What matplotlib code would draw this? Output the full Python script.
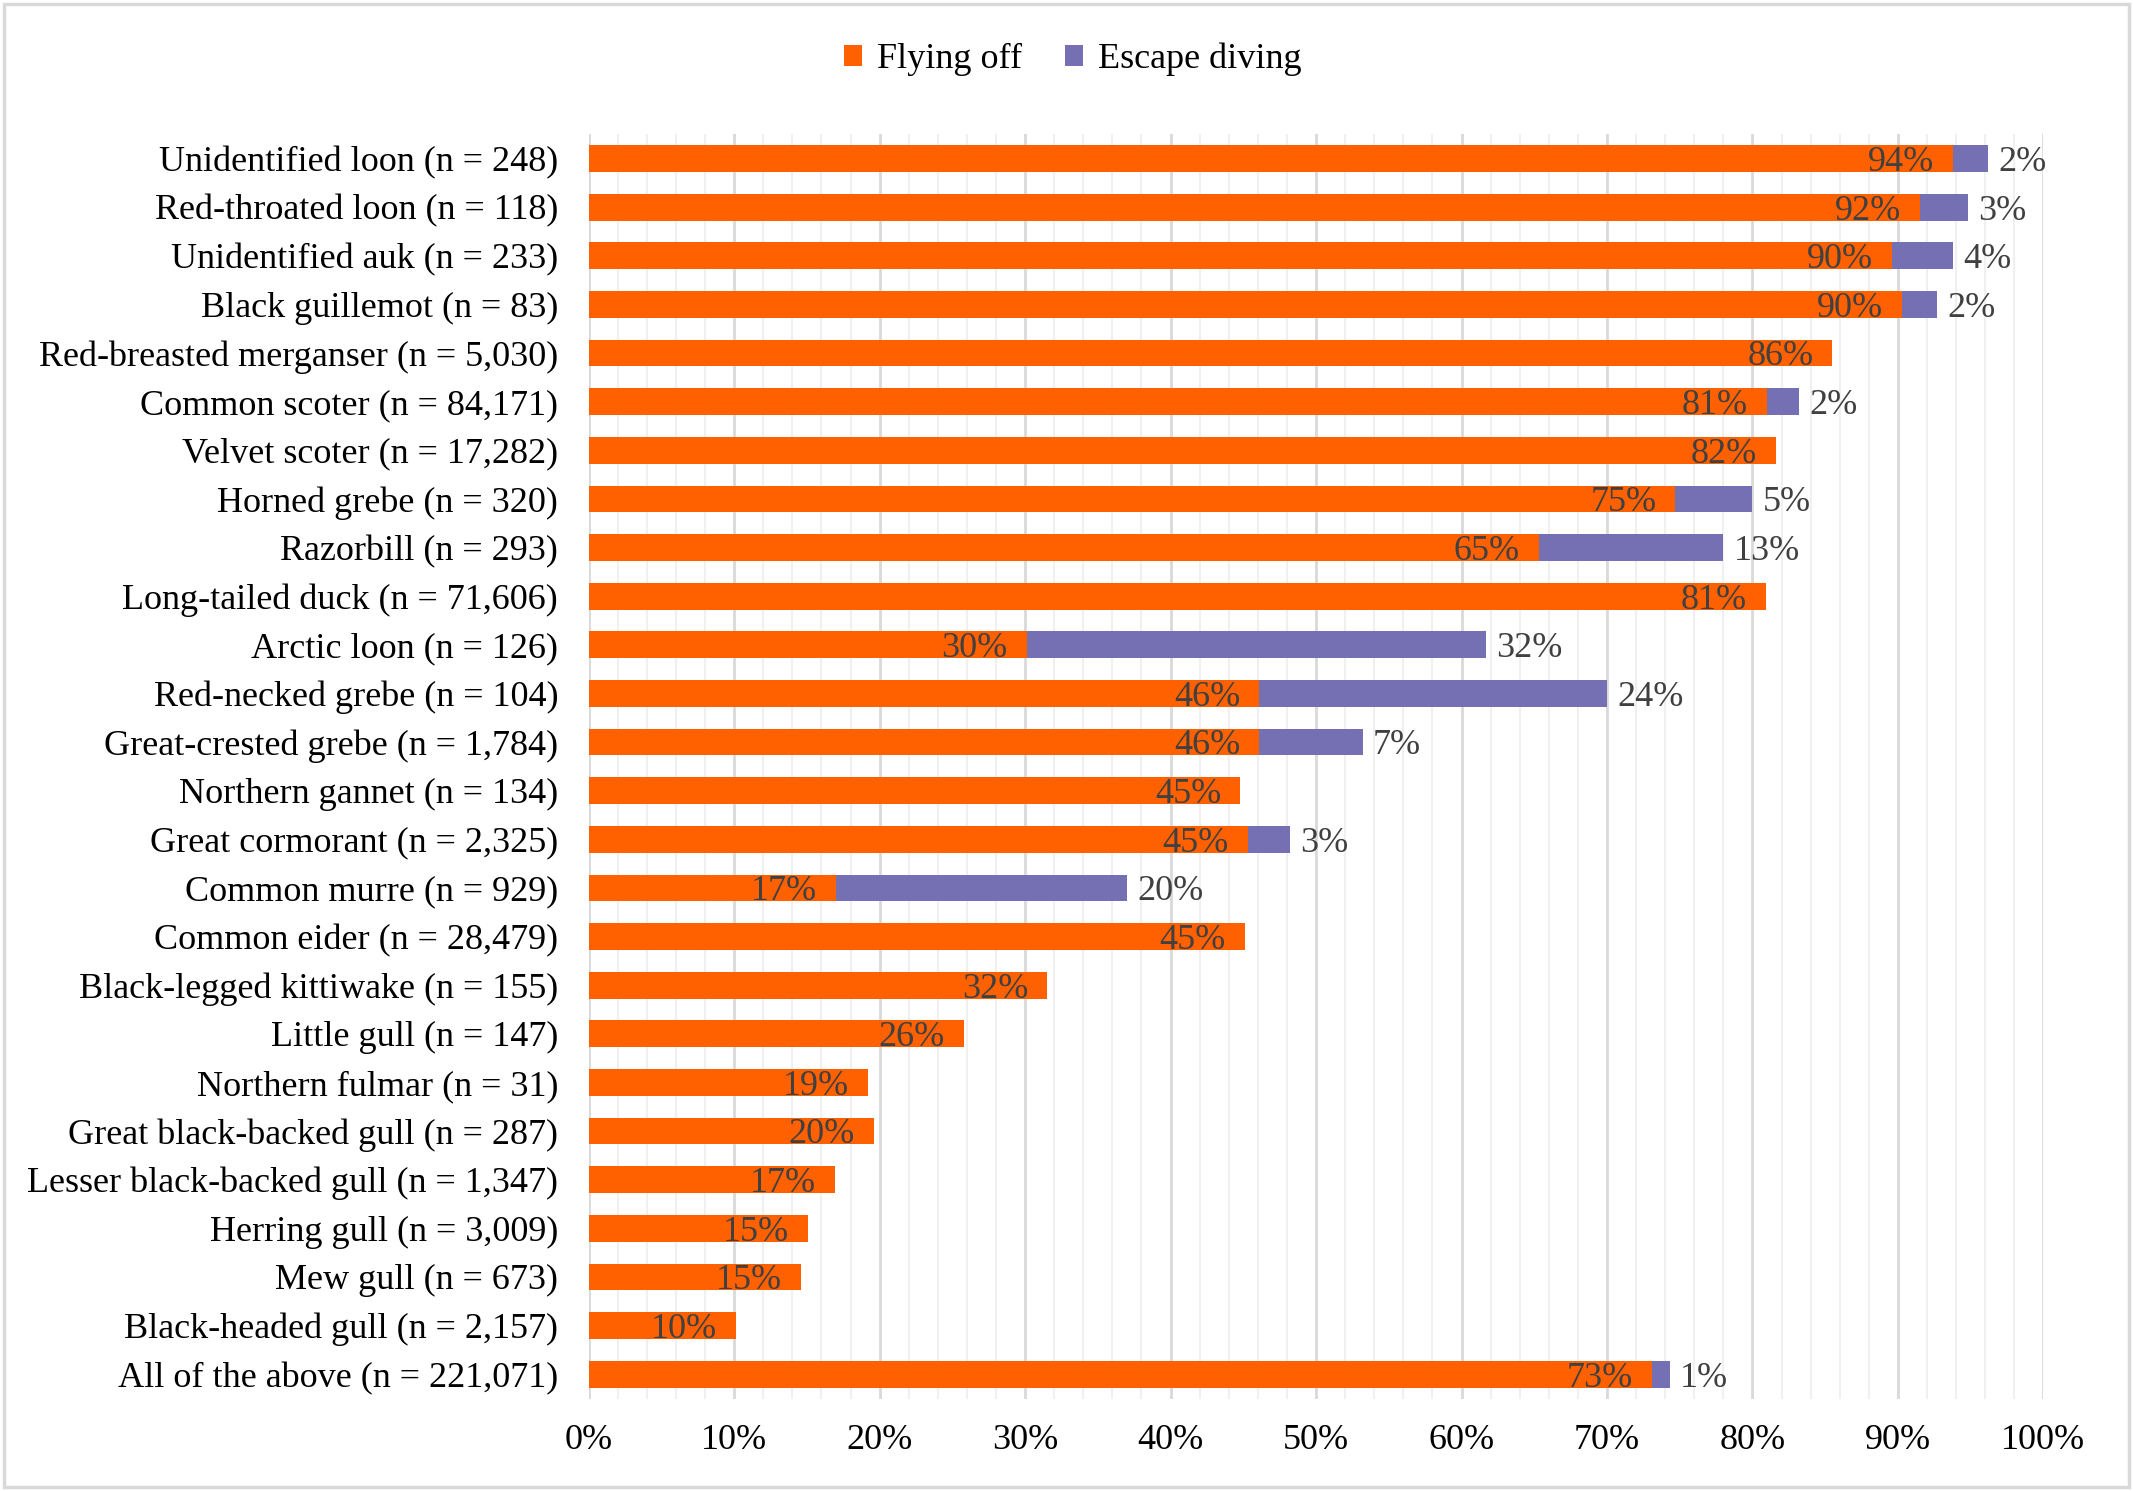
import matplotlib.pyplot as plt
from matplotlib.patches import Rectangle
import numpy as np

plt.rcParams['font.family'] = ['Liberation Serif', 'DejaVu Serif']

species = ['Unidentified loon (n = 248)', 'Red-throated loon (n = 118)',
           'Unidentified auk (n = 233)', 'Black guillemot (n = 83)',
           'Red-breasted merganser (n = 5,030)', 'Common scoter (n = 84,171)',
           'Velvet scoter (n = 17,282)', 'Horned grebe (n = 320)',
           'Razorbill (n = 293)', 'Long-tailed duck (n = 71,606)',
           'Arctic loon (n = 126)', 'Red-necked grebe (n = 104)',
           'Great-crested grebe (n = 1,784)', 'Northern gannet (n = 134)',
           'Great cormorant (n = 2,325)', 'Common murre (n = 929)',
           'Common eider (n = 28,479)', 'Black-legged kittiwake (n = 155)',
           'Little gull (n = 147)', 'Northern fulmar (n = 31)',
           'Great black-backed gull (n = 287)', 'Lesser black-backed gull (n = 1,347)',
           'Herring gull (n = 3,009)', 'Mew gull (n = 673)',
           'Black-headed gull (n = 2,157)', 'All of the above (n = 221,071)']
flying = [93.8, 91.5, 89.6, 90.3, 85.5, 81.0, 81.6, 74.7, 65.3, 80.9, 30.1, 46.1, 46.1,
          44.8, 45.3, 17.0, 45.1, 31.5, 25.8, 19.2, 19.6, 16.9, 15.1, 14.6, 10.1, 73.1]
diving = [2.4, 3.3, 4.2, 2.4, 0, 2.2, 0, 5.3, 12.7, 0, 31.6, 23.9, 7.1,
          0, 2.9, 20.0, 0, 0, 0, 0, 0, 0, 0, 0, 0, 1.2]

orange = '#ff6000'
purple = '#7570b3'
lblcol = '#404040'
fs = 26

fig = plt.figure(figsize=(21.33, 14.91), dpi=100)
ax = fig.add_axes([0.276, 0.062, 0.682, 0.848])

y = np.arange(len(species))
ax.barh(y, flying, height=0.55, color=orange, label='Flying off', zorder=3)
ax.barh(y, diving, left=flying, height=0.55, color=purple, label='Escape diving', zorder=3)

# data labels
for i in range(len(species)):
    ax.text(flying[i] - 1.3, y[i] + 0.08, '%.0f%%' % flying[i], ha='right', va='center',
            fontsize=fs, color=lblcol, zorder=4)
    if diving[i] > 0:
        ax.text(flying[i] + diving[i] + 0.7, y[i] + 0.08, '%.0f%%' % diving[i], ha='left',
                va='center', fontsize=fs, color=lblcol, zorder=4)

ax.set_xlim(0, 100)
ax.set_ylim(len(species) - 0.5, -0.5)
ax.set_yticks(y)
ax.set_yticklabels(species, fontsize=fs)
ax.set_xticks(np.arange(0, 101, 10))
ax.set_xticklabels(['%d%%' % v for v in range(0, 101, 10)], fontsize=fs)
ax.set_xticks(np.arange(0, 101, 2), minor=True)
ax.tick_params(axis='y', length=0, pad=22)
ax.tick_params(axis='x', which='both', length=0, pad=18)
ax.grid(axis='x', which='major', color='#d9d9d9', linewidth=2, zorder=1)
ax.grid(axis='x', which='minor', color='#f0f0f0', linewidth=1.5, zorder=0)
ax.set_axisbelow(True)
for s in ax.spines.values():
    s.set_visible(False)

fig.legend(loc='center', bbox_to_anchor=(0.503, 0.96), ncol=2, frameon=False,
           fontsize=fs, handlelength=0.5, handleheight=0.5, handletextpad=0.4,
           columnspacing=1.2)

fig.patches.append(Rectangle((0.002, 0.003), 0.996, 0.994, transform=fig.transFigure,
                             fill=False, edgecolor='#d9d9d9', linewidth=2.5))

fig.savefig('out.png', dpi=100)
